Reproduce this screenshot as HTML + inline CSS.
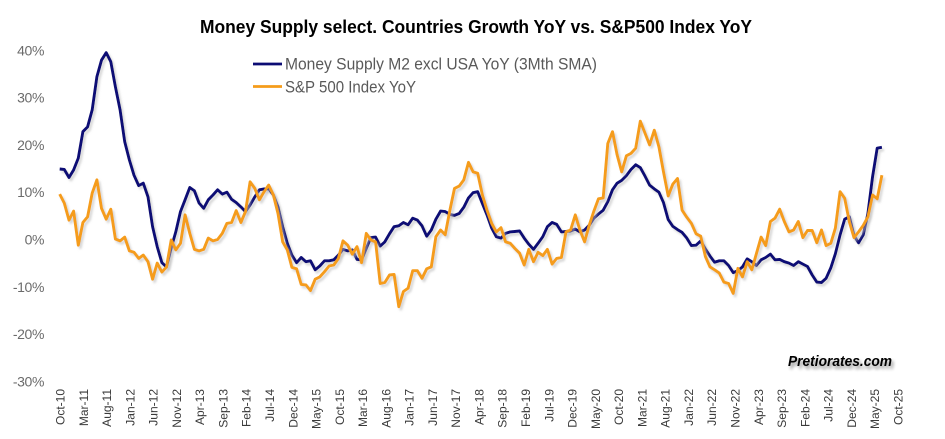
<!DOCTYPE html>
<html>
<head>
<meta charset="utf-8">
<title>Money Supply vs S&amp;P500</title>
<style>
html,body{margin:0;padding:0;background:#fff;}
svg{display:block;font-family:"Liberation Sans",sans-serif;}
</style>
</head>
<body>
<svg id="chart" width="945" height="439" viewBox="0 0 945 439">
<defs>
<filter id="lineShadow" x="-5%" y="-5%" width="110%" height="115%">
<feGaussianBlur in="SourceGraphic" stdDeviation="1.1" result="b"/>
<feColorMatrix in="b" type="matrix" values="0 0 0 0 0.5  0 0 0 0 0.5  0 0 0 0 0.5  0 0 0 0.6 0" result="g"/>
<feOffset in="g" dx="2" dy="2.5" result="o"/>
<feMerge><feMergeNode in="o"/><feMergeNode in="SourceGraphic"/></feMerge>
</filter>
<filter id="textShadow" x="-10%" y="-30%" width="120%" height="180%">
<feGaussianBlur in="SourceAlpha" stdDeviation="1.5" result="b"/>
<feOffset in="b" dx="2" dy="3" result="o"/>
<feComponentTransfer in="o" result="c"><feFuncA type="linear" slope="0.45"/></feComponentTransfer>
<feMerge><feMergeNode in="c"/><feMergeNode in="SourceGraphic"/></feMerge>
</filter>
</defs>
<text x="476" y="33" text-anchor="middle" font-size="18" font-weight="700" fill="#000" textLength="552" lengthAdjust="spacingAndGlyphs">Money Supply select. Countries Growth YoY vs. S&amp;P500 Index YoY</text>
<g id="yAxis"></g>
<g id="xAxis"></g>
<g id="series"></g>
<g>
<line x1="253" y1="64" x2="282" y2="64" stroke="#0c0c74" stroke-width="2.8"/>
<text x="285" y="69.5" font-size="16.5" fill="#595959" textLength="312" lengthAdjust="spacingAndGlyphs">Money Supply M2 excl USA YoY (3Mth SMA)</text>
<line x1="253" y1="86.5" x2="282" y2="86.5" stroke="#f59c1a" stroke-width="2.8"/>
<text x="285" y="92.5" font-size="16.5" fill="#595959" textLength="131" lengthAdjust="spacingAndGlyphs">S&amp;P 500 Index YoY</text>
</g>
<text x="788" y="366" font-size="15" font-weight="700" font-style="italic" fill="#000" textLength="104" lengthAdjust="spacingAndGlyphs" filter="url(#textShadow)">Pretiorates.com</text>
</svg>
<script>
const yTicks = [40, 30, 20, 10, 0, -10, -20, -30];
const xLabels = ["Oct-10","Mar-11","Aug-11","Jan-12","Jun-12","Nov-12","Apr-13","Sep-13","Feb-14","Jul-14","Dec-14","May-15","Oct-15","Mar-16","Aug-16","Jan-17","Jun-17","Nov-17","Apr-18","Sep-18","Feb-19","Jul-19","Dec-19","May-20","Oct-20","Mar-21","Aug-21","Jan-22","Jun-22","Nov-22","Apr-23","Sep-23","Feb-24","Jul-24","Dec-24","May-25","Oct-25"];
const m2Values = [14.9,14.8,13.1,14.7,17.2,22.8,23.8,27.4,34.4,37.9,
39.5,37.6,32.3,27.4,20.7,16.8,13.6,11.4,11.9,9.0,
2.7,-1.5,-4.9,-5.8,-1.8,1.6,5.9,8.4,11,10.3,
7.7,6.6,8.4,9.4,10.5,9.6,10,8.5,7.8,6.9,
5.9,7.3,9,10.5,10.7,10.7,9.4,6.9,2.7,-0.8,
-3.3,-4.9,-3.8,-4.7,-4.5,-6.4,-5.6,-4.5,-4.5,-4.3,
-3.3,-2.1,-2.4,-2.2,-4.2,-4.3,-1.9,0.4,0.5,-1.4,
-0.5,1.2,2.7,2.9,3.6,3.1,4.5,4.1,2.9,0.7,
2,4.3,6,5.9,5.3,5.1,5.5,6.8,8.8,9.9,
10.1,7.6,5.2,2.4,0.6,0.3,1.3,1.6,1.7,1.8,
0.3,-1,-2.1,-0.8,0.6,2.7,3.6,3.2,1.6,1.7,
1.8,2.2,1.6,2,3,4.5,5.4,6.2,8,10.5,
11.9,12.5,13.5,14.8,15.8,15.2,13.4,11.5,10.7,10,
7.8,4.2,2.8,2.1,1.5,0.3,-1.3,-1.2,-0.3,-2,
-3.5,-4.8,-4.5,-4.5,-5.5,-7,-6.6,-5.8,-4.1,-4.7,
-5.5,-4.3,-3.8,-3.1,-4.3,-4.2,-4.7,-5,-5.5,-4.7,
-5.2,-5.7,-7.5,-9,-9.1,-8.2,-6,-3,1,4.3,
4.8,0.8,-0.7,1,5.5,13.3,19.3,19.5];
const sp500Values = [9.6,7.7,4.1,6,-1.2,3.6,4.8,9.8,12.6,6.6,
4.3,6.4,0.1,-0.3,0.5,-2.4,-2.7,-4,-3.3,-4.7,
-8.4,-5,-6.9,-5.8,-0.1,-2.2,-0.8,5.2,1.3,-2.1,
-2.4,-2.1,0.3,-0.3,0,1.3,3.4,3.6,6.1,3.6,
5.9,12.2,10.8,8.4,10.1,11.5,9.4,5.5,-0.5,-2.2,
-5.9,-6.2,-9.5,-9.6,-10.8,-8.4,-7.9,-6.8,-5.6,-5.4,
-4,-0.3,-1.2,-3.1,-1.5,-4.9,1.3,-0.1,-0.5,-9.3,
-9.1,-7.5,-7.4,-14.2,-11,-10.3,-6.6,-6.6,-8.2,-6.2,
-5.8,0.6,2,1,6.2,10.8,11.3,12.6,16.3,14.3,
14,9.4,6.2,3.4,1.6,2.5,-0.5,-0.8,-1.9,-2.9,
-5.4,-2.1,-4.7,-2.7,-3.4,-2.1,-5.2,-4,-3.8,1.6,
2,5.2,2,-0.5,3,6,8.6,8.8,20.3,22.8,
17.9,14.3,17.7,18.2,19.3,25,22.5,20,23.1,19.6,
14.3,9.2,11.7,12.9,6.2,4.7,3.4,1.2,0.7,-3.6,
-5.8,-6.4,-7.1,-9,-9.3,-11.4,-6.1,-7.9,-4.7,-6.4,
-3,0.5,-1.3,3.8,4.5,6.4,3.8,1.6,2,3.8,
0.4,1.9,1.9,-0.7,2,-1.3,-0.8,2.4,10.1,8.7,
3.7,0.4,1.6,3,4.8,9.4,8.6,13.6];

const NS = 'http://www.w3.org/2000/svg';
function xScale(i) { return 59.7 + 4.645 * i; }
function labelX(i) { return 60.5 + 4.655 * i; }
function yScale(v) { return 239.5 - 4.73 * v; }

const yAxisGroup = document.getElementById('yAxis');
yTicks.forEach(function (t) {
  const el = document.createElementNS(NS, 'text');
  
  
  el.setAttribute('x', 44);
  el.setAttribute('y', yScale(t) + 5);
  el.setAttribute('text-anchor', 'end');
  el.setAttribute('font-size', '14');
  el.setAttribute('letter-spacing', '-0.4');
  el.setAttribute('fill', '#6b6b6b');
  el.textContent = t + '%';
  yAxisGroup.appendChild(el);
});

const xAxisGroup = document.getElementById('xAxis');
xLabels.forEach(function (label, k) {
  const el = document.createElementNS(NS, 'text');
  
  
  const x = labelX(k * 5) + 4;
  el.setAttribute('transform', 'translate(' + x + ',389) rotate(-90)');
  el.setAttribute('text-anchor', 'end');
  el.setAttribute('font-size', '12');
  el.setAttribute('fill', '#3a3a3a');
  el.textContent = label;
  xAxisGroup.appendChild(el);
});

function drawLine(values, color, name) {
  const el = document.createElementNS(NS, 'polyline');
  
  
  el.setAttribute('points', values.map(function (v, i) {
    return xScale(i).toFixed(1) + ',' + yScale(v).toFixed(1);
  }).join(' '));
  el.setAttribute('fill', 'none');
  el.setAttribute('stroke', color);
  el.setAttribute('stroke-width', '2.9');
  el.setAttribute('stroke-linejoin', 'round');
  el.setAttribute('filter', 'url(#lineShadow)');
  document.getElementById('series').appendChild(el);
}
drawLine(m2Values, '#0c0c74', 'm2-line');
drawLine(sp500Values, '#f59c1a', 'sp500-line');
</script>
</body>
</html>
